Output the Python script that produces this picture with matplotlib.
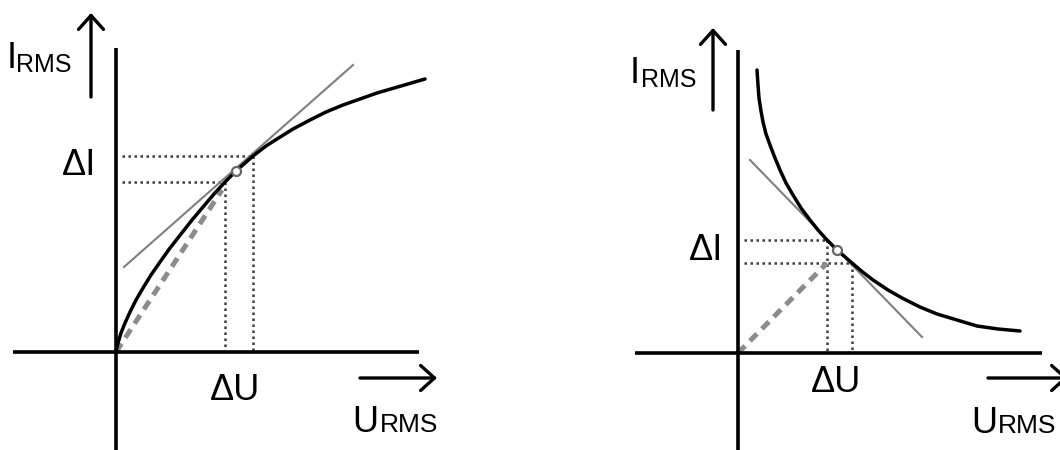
import matplotlib
matplotlib.use("Agg")
import matplotlib.pyplot as plt

plt.rcParams["font.family"] = ["Liberation Sans", "DejaVu Sans"]

# Rising characteristic (left) and falling characteristic (right),
# coordinates measured from each diagram's origin.
left_u = [0, 2, 5, 9, 14, 20, 27, 35, 44, 54, 65, 76, 87, 98, 109, 120,
          137, 150, 161, 177, 194, 210, 227, 244, 261, 285, 309]
left_i = [0, 9, 19, 29, 40, 52, 64, 77, 90, 104, 118, 132, 145, 158, 170, 181,
          196, 206, 213, 223, 232, 240, 247, 253, 259, 266, 273]

right_u = [19, 20, 21, 23, 25, 28, 32, 37, 42, 48, 55, 63, 72, 80, 89, 99,
           114, 124, 135, 150, 165, 182, 199, 219, 239, 260, 282]
right_i = [283, 268, 255, 242, 231, 219, 208, 195, 183, 170, 158, 145, 133, 123,
           113, 103, 90, 81.5, 73, 63, 54.5, 46, 39, 33, 27, 24, 22]

# Operating point and the two neighbouring points that span dU / dI
left_point = (120, 181)
left_du = [109, 137]
left_di = [170, 196]
right_point = (99, 103)
right_du = [89, 114]
right_di = [113, 90]

# Tangent at the operating point and chord from the origin
left_tangent_u = [8, 237]
left_tangent_i = [85, 287]
left_chord_u = [0, 106]
left_chord_i = [0, 162]
right_tangent_u = [12, 184]
right_tangent_i = [193, 16]
right_chord_u = [0, 89]
right_chord_i = [0, 90]

BIG = 26
SUB = 18
AXIS_LW = 2.6
ARROW = dict(arrowstyle="->,head_length=0.5,head_width=0.45", lw=2.4,
             color="black", mutation_scale=20, shrinkA=0, shrinkB=0)

fig = plt.figure(figsize=(10.6, 4.5), dpi=100)
ax_l = fig.add_axes([0.0, 0.0, 0.5, 1.0])
ax_r = fig.add_axes([0.5, 0.0, 0.5, 1.0])
ax_l.set_xlim(-116, 414)
ax_l.set_ylim(-98, 352)
ax_r.set_xlim(-208, 322)
ax_r.set_ylim(-97, 353)


def draw_panel(ax, u, i, point, du, di, tan_u, tan_i, chord_u, chord_i,
               frame, labels):
    x_lo, x_hi, y_top = frame
    # coordinate axes
    ax.plot([x_lo, x_hi], [0, 0], color="black", lw=AXIS_LW,
            solid_capstyle="butt", zorder=3)
    ax.plot([0, 0], [-120, y_top], color="black", lw=AXIS_LW,
            solid_capstyle="butt", zorder=3)

    # dotted projections onto both axes
    for uu, ii in zip(du, di):
        ax.plot([6, uu], [ii, ii], color="#3c3c3c", lw=1.8,
                linestyle=(0, (1, 1.4)), zorder=2)
        ax.plot([uu, uu], [ii, 0], color="#3c3c3c", lw=1.8,
                linestyle=(0, (1, 1.4)), zorder=2)

    ax.plot(chord_u, chord_i, color="#8c8c8c", lw=3.6,
            linestyle=(0, (2.0, 1.4)), dash_capstyle="butt", zorder=2)
    ax.plot(tan_u, tan_i, color="#7f7f7f", lw=1.5, zorder=4)
    ax.plot(u, i, color="black", lw=2.5, solid_capstyle="round",
            solid_joinstyle="round", zorder=5)
    ax.plot(*point, marker="o", ms=6.5, mfc="white", mec="#666666",
            mew=1.6, zorder=6)

    (i_arrow, u_arrow, i_lbl, rms_i, di_lbl, du_lbl, u_lbl, rms_u) = labels
    ax.annotate("", xy=(i_arrow[0], i_arrow[2]), xytext=(i_arrow[0], i_arrow[1]),
                arrowprops=ARROW, annotation_clip=False)
    ax.annotate("", xy=(u_arrow[2], u_arrow[0]), xytext=(u_arrow[1], u_arrow[0]),
                arrowprops=ARROW, annotation_clip=False)

    ax.text(*i_lbl, "I", fontsize=BIG, ha="left", va="baseline")
    ax.text(*rms_i, "RMS", fontsize=SUB, ha="left", va="baseline")
    ax.text(*di_lbl, "ΔI", fontsize=BIG, ha="right", va="baseline")
    ax.text(*du_lbl, "ΔU", fontsize=BIG, ha="center", va="baseline")
    ax.text(*u_lbl, "U", fontsize=BIG, ha="left", va="baseline")
    ax.text(*rms_u, "RMS", fontsize=SUB + 1, ha="left", va="baseline")
    ax.axis("off")


draw_panel(ax_l, left_u, left_i, left_point, left_du, left_di,
           left_tangent_u, left_tangent_i, left_chord_u, left_chord_i,
           frame=(-103, 303, 304),
           labels=((-25, 255, 339), (-26, 244, 321), (-109, 284), (-100, 280),
                   (-20, 177), (119, -48), (236, -80), (264, -80)))

draw_panel(ax_r, right_u, right_i, right_point, right_du, right_di,
           right_tangent_u, right_tangent_i, right_chord_u, right_chord_i,
           frame=(-103, 304, 303),
           labels=((-25, 243, 325), (-25, 250, 330), (-108, 270), (-97, 266),
                   (-15, 93), (98, -39), (233, -80), (260, -80)))

fig.savefig("out.png", dpi=100, facecolor="white")
